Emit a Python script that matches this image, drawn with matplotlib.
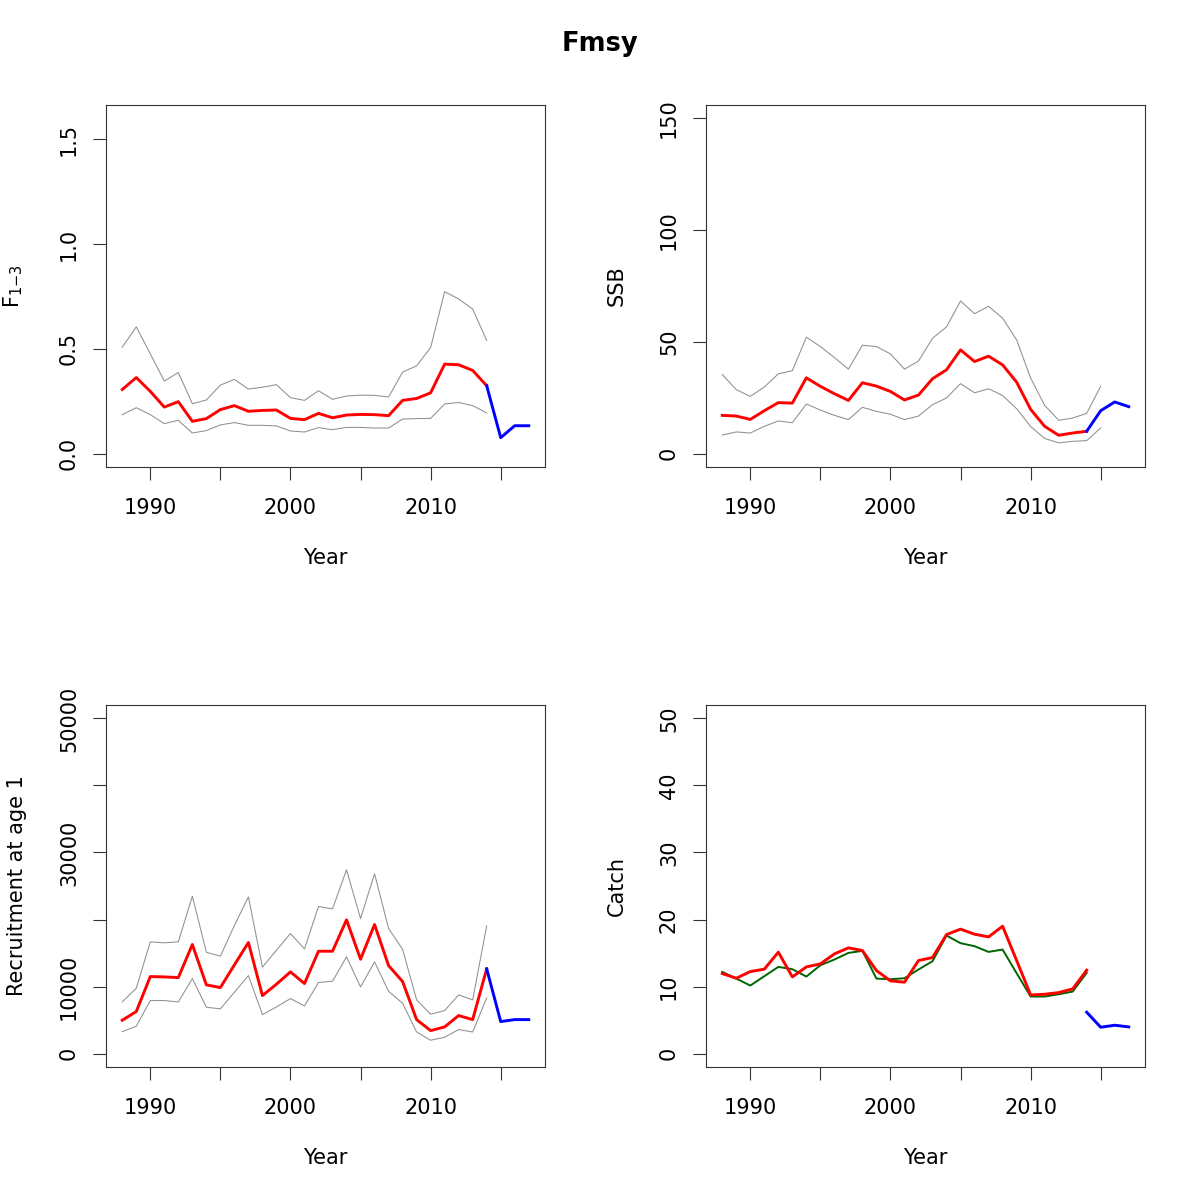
import numpy as np
import matplotlib
matplotlib.use('Agg')
import matplotlib.pyplot as plt

years = np.arange(1988, 2015)
proj_years = np.arange(2014, 2018)

# fishing mortality F1-3
F_est = [0.306, 0.363, 0.297, 0.222, 0.248, 0.154, 0.167, 0.21, 0.229, 0.202,
         0.206, 0.208, 0.168, 0.162, 0.192, 0.171, 0.184, 0.187, 0.186, 0.181,
         0.254, 0.263, 0.29, 0.427, 0.424, 0.397, 0.324]
F_hi = [0.508, 0.605, 0.476, 0.346, 0.387, 0.238, 0.256, 0.327, 0.354, 0.308,
        0.317, 0.329, 0.267, 0.254, 0.3, 0.259, 0.275, 0.279, 0.278, 0.27,
        0.389, 0.419, 0.506, 0.773, 0.738, 0.69, 0.54]
F_lo = [0.186, 0.219, 0.186, 0.143, 0.159, 0.098, 0.11, 0.137, 0.148, 0.135,
        0.135, 0.132, 0.108, 0.103, 0.124, 0.114, 0.125, 0.125, 0.122, 0.122,
        0.165, 0.167, 0.168, 0.237, 0.244, 0.229, 0.194]
F_proj = [0.324, 0.076, 0.133, 0.133]

# spawning stock biomass
ssb_years = np.arange(1988, 2016)
SSB_est = [17.1, 16.8, 15.3, 19.2, 22.8, 22.6, 33.9, 30.1, 26.8, 23.8,
           31.7, 30.2, 27.8, 24.0, 26.2, 33.5, 37.5, 46.4, 41.2, 43.6,
           39.7, 32.0, 19.8, 12.2, 8.2, 9.2, 10.0]
SSB_hi = [35.4, 28.6, 25.6, 29.8, 35.7, 37.1, 52.1, 47.9, 43.0, 37.8,
          48.5, 47.9, 44.6, 37.8, 41.4, 51.6, 56.7, 68.3, 62.6, 65.9,
          60.6, 50.9, 33.8, 21.6, 14.9, 15.9, 18.0, 30.2]
SSB_lo = [8.3, 9.7, 9.2, 12.2, 14.6, 13.8, 22.2, 19.5, 17.1, 15.2,
          20.7, 18.9, 17.6, 15.2, 16.8, 21.9, 24.9, 31.3, 27.2, 29.0,
          26.0, 20.1, 12.1, 6.8, 4.8, 5.5, 5.8, 11.5]
SSB_proj = [10.0, 19.2, 23.1, 21.0]

# recruitment at age 1
R_est = [4975, 6270, 11490, 11440, 11340, 16270, 10250, 9850, 13230, 16570,
         8660, 10350, 12190, 10450, 15270, 15270, 19950, 14080, 19250, 13130,
         10750, 5070, 3430, 3980, 5670, 5070, 12640]
R_hi = [7710, 9750, 16670, 16520, 16670, 23480, 15120, 14530, 19100, 23380,
        12890, 15420, 17910, 15620, 21940, 21590, 27410, 20150, 26820, 18660,
        15570, 8010, 5870, 6420, 8760, 8010, 19050]
R_lo = [3280, 4080, 7910, 7910, 7710, 11190, 6920, 6670, 9150, 11640,
        5820, 6960, 8210, 7110, 10600, 10800, 14420, 9950, 13680, 9300,
        7510, 3230, 1990, 2440, 3580, 3230, 8310]
R_proj = [12640, 4780, 5070, 5070]

# catch
C_est = [11.94, 11.24, 12.24, 12.59, 15.13, 11.44, 12.93, 13.38, 14.87, 15.77,
         15.37, 12.39, 10.85, 10.65, 13.88, 14.33, 17.76, 18.56, 17.81, 17.41,
         19.0, 13.9, 8.75, 8.85, 9.1, 9.65, 12.44]
C_obs = [12.19, 11.19, 10.15, 11.54, 12.93, 12.59, 11.49, 13.18, 14.03, 15.02,
         15.32, 11.19, 11.09, 11.24, 12.54, 13.78, 17.61, 16.47, 16.02, 15.17,
         15.52, 12.0, 8.51, 8.51, 8.85, 9.25, 12.04]
C_proj = [6.17, 3.93, 4.23, 3.98]

gray = '#8f8f8f'
fs = 15

fig = plt.figure(figsize=(12, 12), dpi=100)
W = 439 / 1200.0
H = 362 / 1200.0
positions = [(106 / 1200.0, 1 - 467 / 1200.0), (706 / 1200.0, 1 - 467 / 1200.0),
             (106 / 1200.0, 1 - 1067 / 1200.0), (706 / 1200.0, 1 - 1067 / 1200.0)]


def r_axes(pos, ymax, yticks, ylabels, ylabel, labx):
    ax = fig.add_axes([pos[0], pos[1], W, H])
    x0, x1 = 1988, 2017
    dx = (x1 - x0) * 0.04
    ax.set_xlim(x0 - dx, x1 + dx)
    dy = ymax * 0.04
    ax.set_ylim(-dy, ymax + dy)
    xt = np.arange(1990, 2016, 5)
    ax.set_xticks(xt)
    ax.set_xticklabels([str(v) if v % 10 == 0 else '' for v in xt])
    ax.set_yticks(yticks)
    ax.set_yticklabels(ylabels, rotation=90, va='center')
    ax.tick_params(length=9.5, width=0.8, labelsize=fs, pad=10, color='#333333')
    ax.tick_params(axis='x', pad=13)
    for s in ax.spines.values():
        s.set_linewidth(0.8)
        s.set_color('#333333')
    ax.set_xlabel('Year', fontsize=fs, va='center')
    ax.xaxis.set_label_coords(0.5, -91 / 362.0)
    ax.set_ylabel(ylabel, fontsize=fs, va='center')
    ax.yaxis.set_label_coords(-labx / 439.0, 0.5)
    return ax


# F panel
ax = r_axes(positions[0], 1.6, [0, 0.5, 1.0, 1.5], ['0.0', '0.5', '1.0', '1.5'],
            r'$\mathregular{F_{\text{1−3}}}$', 93)
ax.plot(years, F_hi, color=gray, lw=0.75)
ax.plot(years, F_lo, color=gray, lw=0.75)
ax.plot(years, F_est, color='red', lw=2.1)
ax.plot(proj_years, F_proj, color='blue', lw=2.1)

# SSB panel
ax = r_axes(positions[1], 150, [0, 50, 100, 150], ['0', '50', '100', '150'], 'SSB', 89)
ax.plot(ssb_years, SSB_hi, color=gray, lw=0.75)
ax.plot(ssb_years, SSB_lo, color=gray, lw=0.75)
ax.plot(years, SSB_est, color='red', lw=2.1)
ax.plot(proj_years, SSB_proj, color='blue', lw=2.1)

# recruitment panel
ax = r_axes(positions[2], 50000, [0, 10000, 20000, 30000, 40000, 50000],
            ['0', '10000', '', '30000', '', '50000'], 'Recruitment at age 1', 89)
ax.plot(years, R_hi, color=gray, lw=0.75)
ax.plot(years, R_lo, color=gray, lw=0.75)
ax.plot(years, R_est, color='red', lw=2.1)
ax.plot(proj_years, R_proj, color='blue', lw=2.1)

# catch panel
ax = r_axes(positions[3], 50, [0, 10, 20, 30, 40, 50], ['0', '10', '20', '30', '40', '50'],
            'Catch', 89)
ax.plot(years, C_obs, color='darkgreen', lw=1.4)
ax.plot(years, C_est, color='red', lw=2.1)
ax.plot(proj_years, C_proj, color='blue', lw=2.1)

fig.text(0.5, 1 - 44 / 1200.0, 'Fmsy', ha='center', va='center', fontsize=18.5,
         fontweight='bold')

fig.savefig('out.png', dpi=100)
